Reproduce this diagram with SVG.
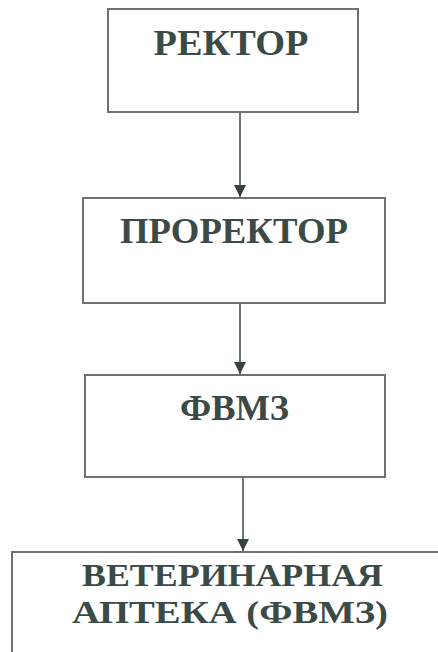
<svg xmlns="http://www.w3.org/2000/svg" width="438" height="652" viewBox="0 0 438 652">
<defs>
<style>
.box{fill:#ffffff;stroke:#6e7371;stroke-width:2}
.lbl{font-family:"Liberation Serif","DejaVu Serif",serif;font-weight:700;font-size:36px;fill:#3b4a46;text-anchor:middle}
.sm{font-size:32px}
.conn{stroke:#4a5551;stroke-width:1.6;fill:none}
</style>
<marker id="ah" viewBox="0 0 10 10" refX="10" refY="5" markerWidth="12" markerHeight="12" markerUnits="userSpaceOnUse" orient="auto">
<path d="M0,0 L10,5 L0,10 Z" fill="#34413d"/>
</marker>
</defs>
<rect width="438" height="652" fill="#ffffff"/>
<g id="connectors">
<line class="conn" x1="240" y1="113" x2="240" y2="197" marker-end="url(#ah)"/>
<line class="conn" x1="240" y1="304" x2="240" y2="374" marker-end="url(#ah)"/>
<line class="conn" x1="243" y1="478" x2="243" y2="551" marker-end="url(#ah)"/>
</g>
<g id="node-rector">
<rect class="box" x="108" y="9" width="250" height="103"/>
<text class="lbl" x="231" y="55" textLength="155" lengthAdjust="spacingAndGlyphs">РЕКТОР</text>
</g>
<g id="node-prorector">
<rect class="box" x="83" y="198" width="302" height="105"/>
<text class="lbl" x="234" y="243" textLength="228" lengthAdjust="spacingAndGlyphs">ПРОРЕКТОР</text>
</g>
<g id="node-fvmz">
<rect class="box" x="85" y="375" width="300" height="102"/>
<text class="lbl" x="234.5" y="420" textLength="109" lengthAdjust="spacingAndGlyphs">ФВМЗ</text>
</g>
<g id="node-apteka">
<rect class="box" x="12" y="552" width="440" height="120"/>
<text class="lbl sm" x="232.5" y="586" textLength="301" lengthAdjust="spacingAndGlyphs">ВЕТЕРИНАРНАЯ</text>
<text class="lbl sm" x="230" y="623" textLength="316" lengthAdjust="spacingAndGlyphs">АПТЕКА (ФВМЗ)</text>
</g>
</svg>
